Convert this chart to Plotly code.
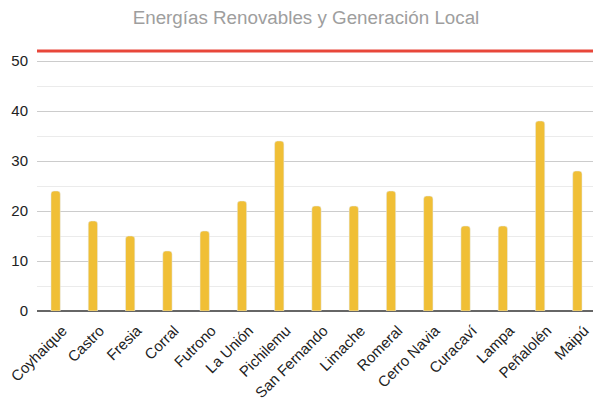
import plotly.graph_objects as go

comunas = [
    "Coyhaique", "Castro", "Fresia", "Corral", "Futrono", "La Unión",
    "Pichilemu", "San Fernando", "Limache", "Romeral", "Cerro Navia",
    "Curacaví", "Lampa", "Peñalolén", "Maipú",
]
valores = [24, 18, 15, 12, 16, 22, 34, 21, 21, 24, 23, 17, 17, 38, 28]
meta = 52

fig = go.Figure()

fig.add_trace(
    go.Bar(
        x=comunas,
        y=valores,
        marker=dict(color="#F0BF36", cornerradius=3),
        hoverinfo="x+y",
    )
)

# linea de meta (roja) en la parte alta del grafico
fig.add_hline(y=meta, line=dict(color="#E8473A", width=3))

# la pagina tiene 8px de margen en el body, por eso 593x394
fig.update_layout(
    title=dict(
        text="Energías Renovables y Generación Local",
        x=0.5025, xanchor="center", y=0.977, yanchor="middle",
        font=dict(family="Liberation Sans, Arial", size=18.8, color="#9E9E9E"),
    ),
    width=593,
    height=394,
    margin=dict(l=29, r=5, t=41, b=91),
    bargap=0.75,
    showlegend=False,
    plot_bgcolor="white",
    paper_bgcolor="white",
    font=dict(family="Liberation Sans, Arial", color="#222222"),
)

fig.update_xaxes(
    tickangle=-45,
    tickfont=dict(size=15, color="#222222"),
    ticklabelstandoff=7,
    ticklabelshift=7,
    showgrid=False,
    ticks="",
    automargin=False,
)
fig.update_yaxes(
    range=[0, 52.4],
    tickvals=[0, 10, 20, 30, 40, 50],
    tickfont=dict(size=15, color="#222222"),
    ticklabelstandoff=8,
    showgrid=True,
    gridcolor="#CCCCCC",
    gridwidth=1,
    minor=dict(dtick=5, showgrid=True, gridcolor="#EBEBEB", gridwidth=1),
    zeroline=True,
    zerolinecolor="#666666",
    zerolinewidth=2,
    ticks="",
    automargin=False,
)

fig.write_html("out.html")
